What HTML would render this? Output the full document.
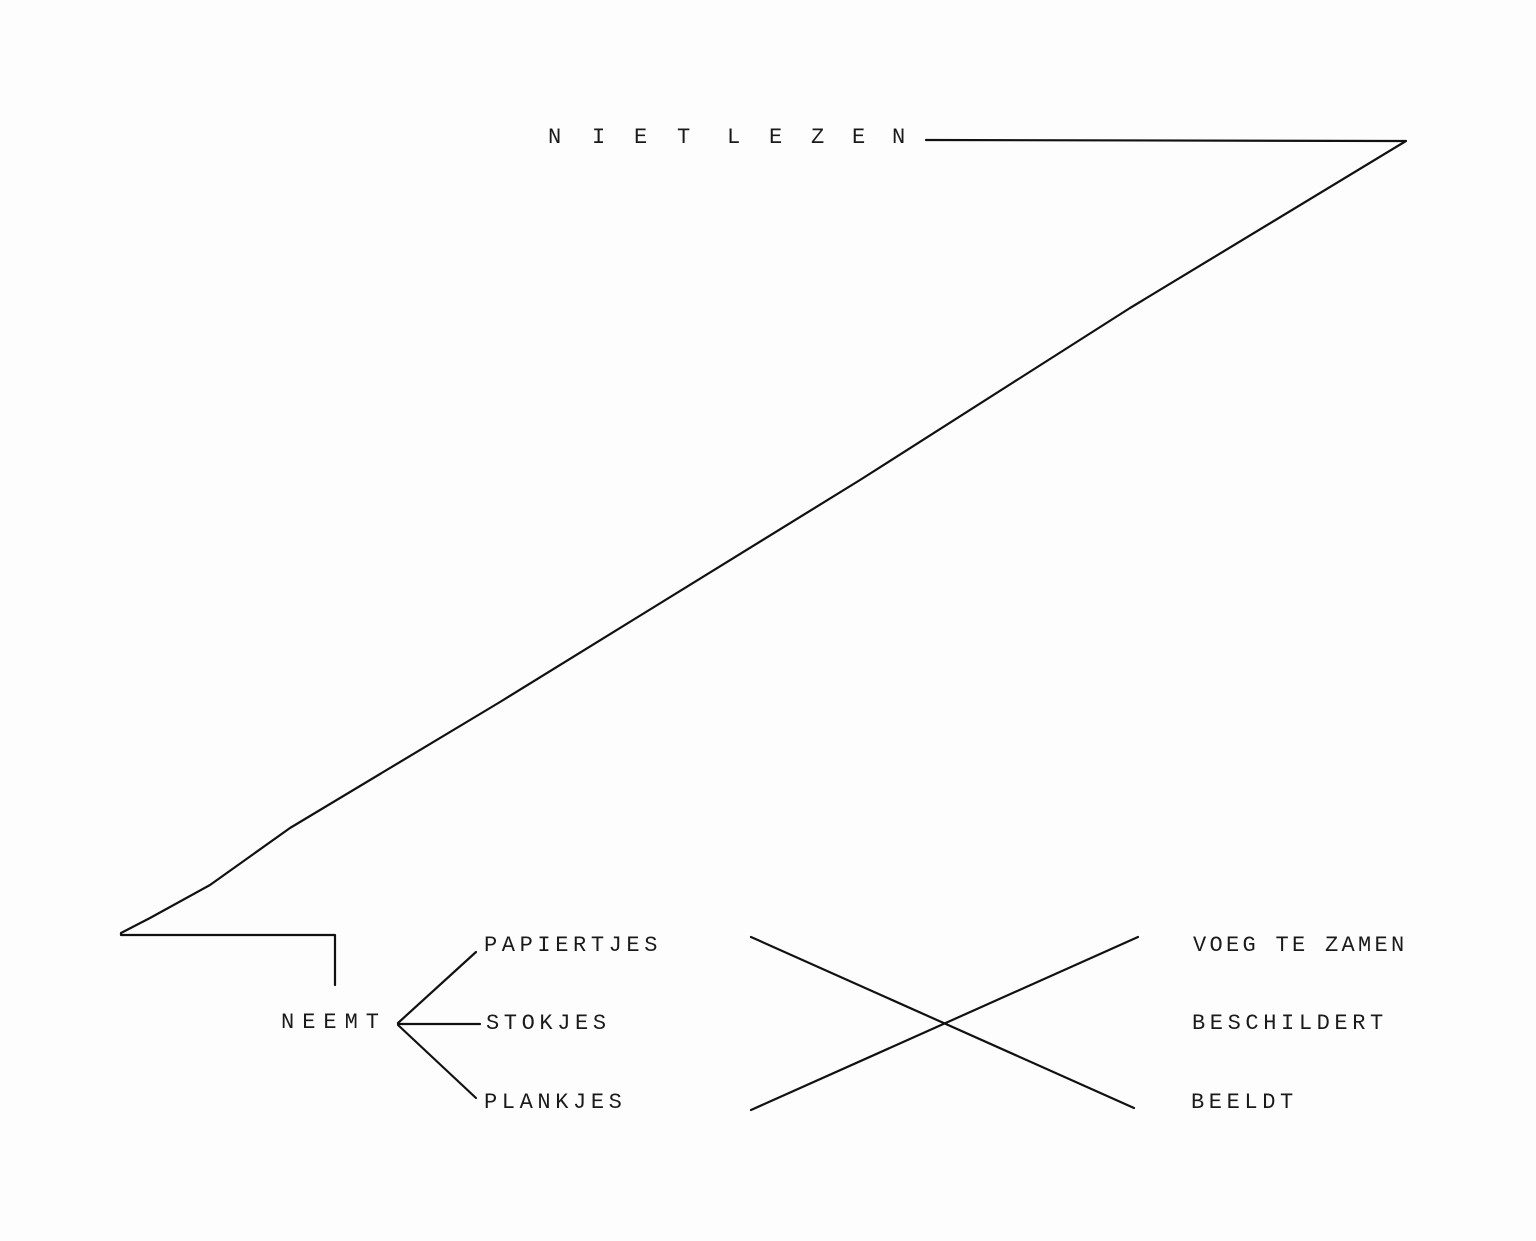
<!DOCTYPE html>
<html><head><meta charset="utf-8"><style>
html,body{margin:0;padding:0;background:#fdfdfd;}
svg{display:block}
text{font-family:"Liberation Mono",monospace;font-size:22px;fill:#1a1a1a;letter-spacing:4.6px}
</style></head><body>
<svg width="1536" height="1241" viewBox="0 0 1536 1241">
<g stroke="#111" stroke-width="2.2" fill="none" stroke-linecap="round" stroke-linejoin="round">
<polyline points="926,140 1406,141 1130,308 860,480 500,702 290,828 210,885 150,918 121,933 121,935 335,935 335,985"/>
<line x1="398" y1="1023" x2="476" y2="952"/>
<line x1="398" y1="1024" x2="480" y2="1024"/>
<line x1="398" y1="1025" x2="476" y2="1098"/>
<line x1="751" y1="937" x2="1134" y2="1108"/>
<line x1="751" y1="1110" x2="1138" y2="937"/>
</g>
<g>
<text x="548" y="143">N</text><text x="592" y="143">I</text><text x="634" y="143">E</text><text x="677" y="143">T</text>
<text x="727" y="143">L</text><text x="769" y="143">E</text><text x="811" y="143">Z</text><text x="852" y="143">E</text><text x="892" y="143">N</text>
<text x="281" y="1028" style="letter-spacing:8px">NEEMT</text>
<text x="484" y="951">PAPIERTJES</text>
<text x="486" y="1029">STOKJES</text>
<text x="484" y="1108">PLANKJES</text>
<text x="1193" y="951" style="letter-spacing:3.3px">VOEG TE ZAMEN</text>
<text x="1192" y="1029" style="letter-spacing:4.6px">BESCHILDERT</text>
<text x="1191" y="1108">BEELDT</text>
</g>
</svg>
</body></html>
